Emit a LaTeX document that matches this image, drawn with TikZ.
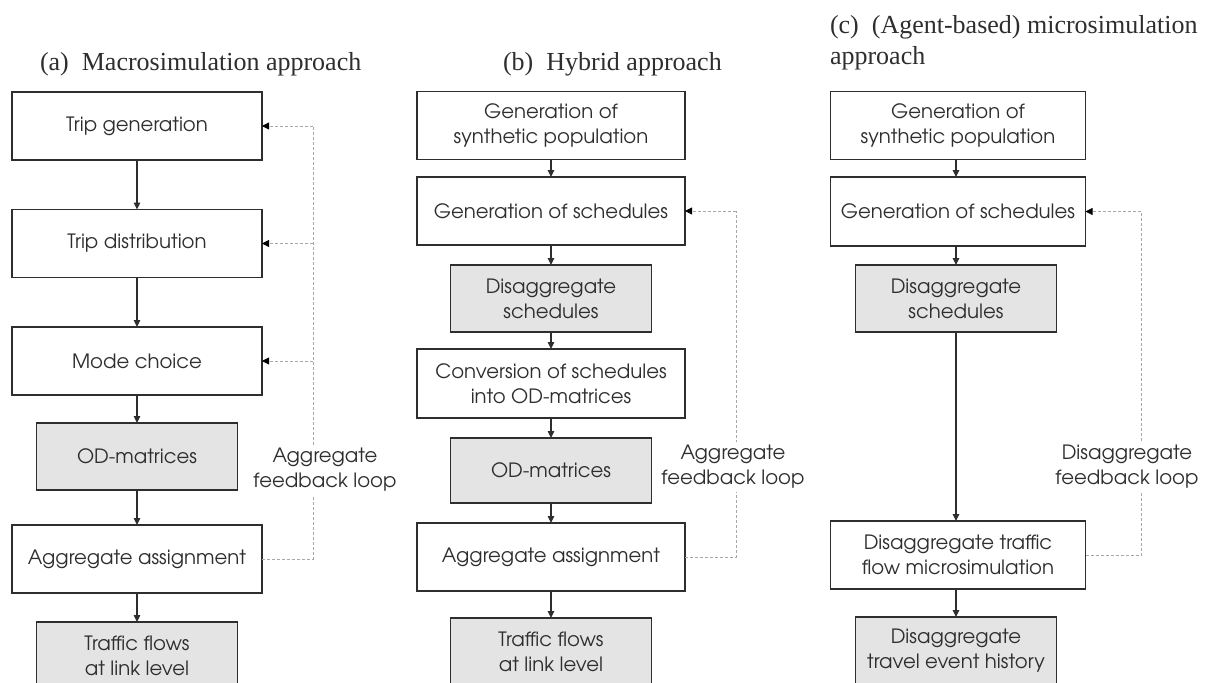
\documentclass[tikz,border=0pt]{standalone}
\usepackage{fontspec}
\setmainfont{Liberation Serif}
\newfontfamily\adv{TeX Gyre Adventor}
\usetikzlibrary{arrows.meta}
\definecolor{ink}{HTML}{2E2E2E}
\definecolor{shade}{HTML}{E4E4E4}
\definecolor{loopgray}{HTML}{A8A8A8}
\begin{document}
\begin{tikzpicture}[x=1pt,y=-1pt,
  every node/.style={inner sep=0pt, outer sep=0pt},
  stage/.style={draw=ink, line width=1.4pt, fill=white, align=center,
    font=\adv\fontsize{19.7}{25}\selectfont, text=ink, minimum height=68pt},
  wide/.style={stage, minimum width=#1},
  result/.style={stage, fill=shade, minimum width=201pt},
  flow/.style={draw=ink, line width=1.2pt, -{Triangle[length=7pt,width=6.5pt]}},
  loopline/.style={draw=loopgray, line width=0.8pt, dash pattern=on 3pt off 2pt},
  loopin/.style={loopline, -{Triangle[length=7pt,width=7pt,color=black]}},
  looplabel/.style={fill=white, align=center, inner sep=3pt,
    font=\adv\fontsize{19.7}{25}\selectfont, text=ink},
  heading/.style={font=\fontsize{26}{30.5}\selectfont, text=ink, anchor=base west, align=left}]
\useasboundingbox (0,0) rectangle (1208,683);
\begin{scope}
\clip (0,0) rectangle (1208,683);

% ---------- (a) macrosimulation ----------
\node[heading] (ta) at (40,70) {(a)\enspace Macrosimulation approach};
\node[wide=250pt] (a1) at (137,126) {Trip generation};
\node[wide=250pt] (a2) at (137,243.5) {Trip distribution};
\node[wide=250pt] (a3) at (137,361) {Mode choice};
\node[result, minimum height=67pt] (a4) at (137,456.5) {OD-matrices};
\node[wide=250pt] (a5) at (137,559) {Aggregate assignment};
\node[result] (a6) at (137,656) {Traffic flows\\at link level};
\foreach \s/\t in {a1/a2,a2/a3,a3/a4,a4/a5,a5/a6}
  \draw[flow] (\s.south) -- (\t.north);
\coordinate (fa) at (313,0);
\draw[loopline] (a5.east) -- (a5.east -| fa) -- (a1.east -| fa);
\foreach \t in {a1,a2,a3}
  \draw[loopin] (\t.east -| fa) -- (\t.east);
\node[looplabel] (la) at (325,470) {Aggregate\\feedback loop};

% ---------- (b) hybrid ----------
\node[heading] (tb) at (503,70) {(b)\enspace Hybrid approach};
\node[wide=268pt] (b1) at (551,125.5) {Generation of\\synthetic population};
\node[wide=268pt] (b2) at (551,211) {Generation of schedules};
\node[result, minimum height=67pt] (b3) at (551,298.5) {Disaggregate\\schedules};
\node[wide=268pt, minimum height=69pt] (b4) at (551,383.5) {Conversion of schedules\\into OD-matrices};
\node[result, minimum height=65pt] (b5) at (551,470.5) {OD-matrices};
\node[wide=268pt] (b6) at (551,557) {Aggregate assignment};
\node[result] (b7) at (551,652) {Traffic flows\\at link level};
\foreach \s/\t in {b1/b2,b2/b3,b3/b4,b4/b5,b5/b6,b6/b7}
  \draw[flow] (\s.south) -- (\t.north);
\coordinate (fb) at (736,0);
\draw[loopline] (b6.east) -- (b6.east -| fb) -- (b2.east -| fb);
\draw[loopin] (b2.east -| fb) -- (b2.east);
\node[looplabel] (lb) at (733,467) {Aggregate\\feedback loop};

% ---------- (c) agent-based microsimulation ----------
\node[heading] (tc) at (830,64) {(c)\enspace(Agent-based) microsimulation\\approach};
\node[wide=255pt] (c1) at (958,125.5) {Generation of\\synthetic population};
\node[wide=255pt, minimum height=69pt] (c2) at (958,211.5) {Generation of schedules};
\node[result, minimum height=67pt] (c3) at (956,298.5) {Disaggregate\\schedules};
\node[wide=255pt] (c4) at (958,555) {Disaggregate traffic\\flow microsimulation};
\node[result] (c5) at (956,651) {Disaggregate\\travel event history};
\foreach \s/\t in {c1/c2,c2/c3,c3/c4,c4/c5}
  \draw[flow] (\s.south -| c3) -- (\t.north -| c3);
\coordinate (fc) at (1141,0);
\draw[loopline] (c4.east) -- (c4.east -| fc) -- (c2.east -| fc);
\draw[loopin] (c2.east -| fc) -- (c2.east);
\node[looplabel] (lc) at (1127,467) {Disaggregate\\feedback loop};
\end{scope}
\end{tikzpicture}
\end{document}
